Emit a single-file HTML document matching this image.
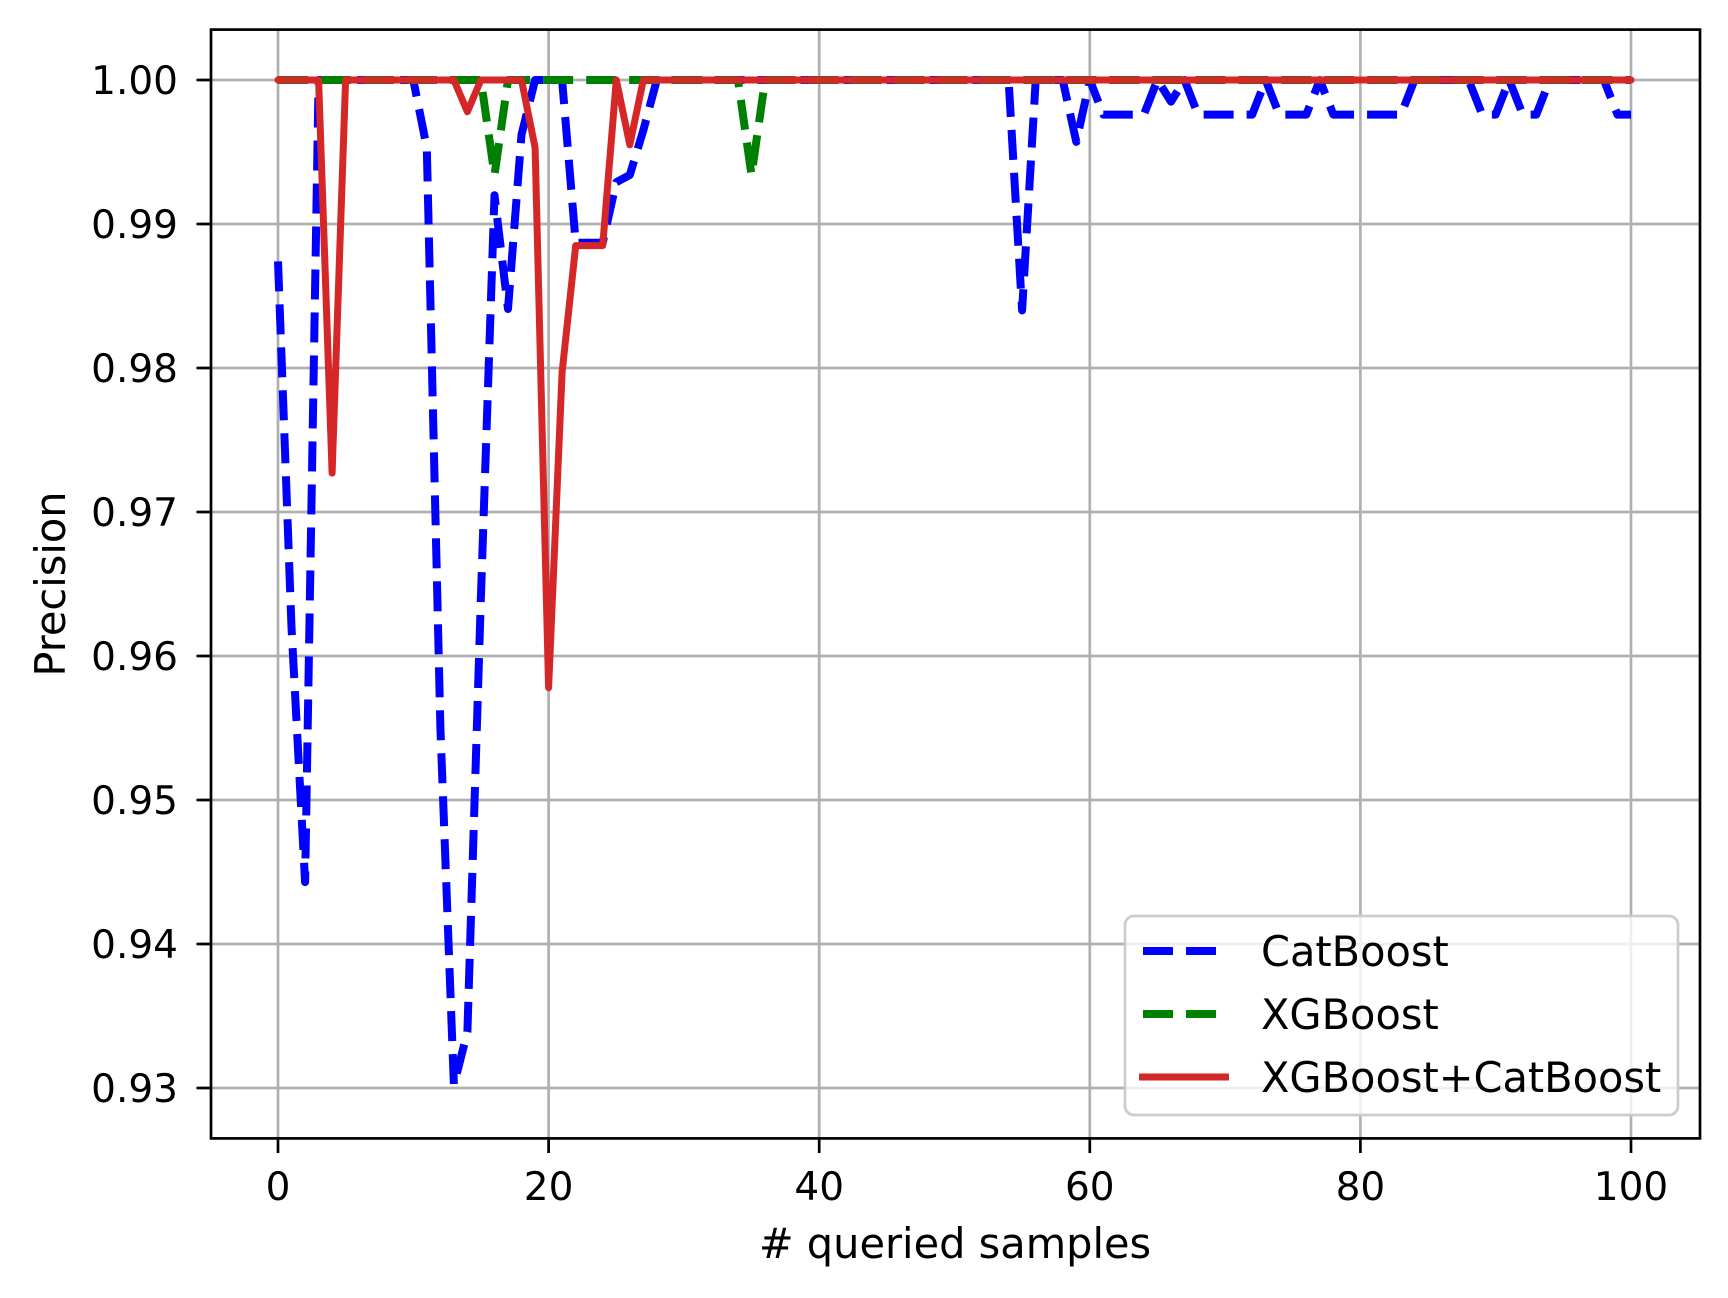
<!DOCTYPE html>
<html><head><meta charset="utf-8"><style>
html,body{margin:0;padding:0;background:#fff;}
svg{display:block;font-family:"DejaVu Sans","Liberation Sans",sans-serif;}
</style></head><body>
<svg id="chart" width="1728" height="1298" viewBox="0 0 1728 1298" xmlns="http://www.w3.org/2000/svg">
<rect width="1728" height="1298" fill="#fff"/>
<g id="grid"></g>
<g id="series"></g>
<rect x="211" y="29.6" width="1489" height="1108.8" fill="none" stroke="#000" stroke-width="2.7"/>
<g id="ticks"></g>
<text x="955" y="1258" font-size="41.5" text-anchor="middle"># queried samples</text>
<text transform="translate(65,584) rotate(-90)" font-size="41.5" text-anchor="middle">Precision</text>
<g id="legend">
<rect x="1125" y="916" width="553" height="199" rx="9" fill="#fff" fill-opacity="0.8" stroke="#cccccc" stroke-width="2.7"/>
<line x1="1143" y1="951" x2="1216" y2="951" stroke="#0000ff" stroke-width="8" stroke-dasharray="30,13"/>
<text x="1261" y="966" font-size="41.5">CatBoost</text>
<line x1="1143" y1="1014" x2="1216" y2="1014" stroke="#008000" stroke-width="8" stroke-dasharray="30,13"/>
<text x="1261" y="1029" font-size="41.5">XGBoost</text>
<line x1="1139" y1="1077" x2="1229" y2="1077" stroke="#d62728" stroke-width="7"/>
<text x="1261" y="1092" font-size="41.5">XGBoost+CatBoost</text>
</g>
</svg>
<script>
const xTicks = [0, 20, 40, 60, 80, 100];
const yTicks = [0.93, 0.94, 0.95, 0.96, 0.97, 0.98, 0.99, 1.00];
const yTickLabels = ["0.93","0.94","0.95","0.96","0.97","0.98","0.99","1.00"];
const catboost = [0.9874,0.962,0.9443,1,1,1,1,1,1,1,1,0.9953,0.955,0.9302,0.9339,0.9641,0.992,0.9841,0.9962,1,
1,1,0.9887,0.9887,0.9887,0.9929,0.9934,0.9965,1,1,1,1,1,1,1,1,1,1,1,1,
1,1,1,1,1,1,1,1,1,1,1,1,1,1,1,0.9840,1,1,1,0.9957,
1,0.9976,0.9976,0.9976,0.9976,1,0.9985,1,0.9976,0.9976,0.9976,0.9976,0.9976,1,0.9976,0.9976,0.9976,1,0.9976,0.9976,
0.9976,0.9976,0.9976,0.9976,1,1,1,1,1,0.9976,0.9976,1,0.9976,0.9976,1,1,1,1,1,0.9976,0.9976];
const xgboost = [1,1,1,1,1,1,1,1,1,1,1,1,1,1,1,1,0.9934,1,1,1,
1,1,1,1,1,1,1,1,1,1,1,1,1,1,1,0.9934,1,1,1,1,
1,1,1,1,1,1,1,1,1,1,1,1,1,1,1,1,1,1,1,1,
1,1,1,1,1,1,1,1,1,1,1,1,1,1,1,1,1,1,1,1,
1,1,1,1,1,1,1,1,1,1,1,1,1,1,1,1,1,1,1,1,1];
const combined = [1,1,1,1,0.9727,1,1,1,1,1,1,1,1,1,0.9978,1,1,1,1,0.9953,
0.9578,0.9797,0.9885,0.9885,0.9885,1,0.9955,1,1,1,1,1,1,1,1,1,1,1,1,1,
1,1,1,1,1,1,1,1,1,1,1,1,1,1,1,1,1,1,1,1,
1,1,1,1,1,1,1,1,1,1,1,1,1,1,1,1,1,1,1,1,
1,1,1,1,1,1,1,1,1,1,1,1,1,1,1,1,1,1,1,1,1];

const NS = "http://www.w3.org/2000/svg";
function xs(v){ return 278 + v * 13.53; }
function ys(v){ return 80 + (1.0 - v) * 14400; }
function mk(tag, attrs, parent){
  const e = document.createElementNS(NS, tag);
  for (const k in attrs) e.setAttribute(k, attrs[k]);
  parent.appendChild(e);
  return e;
}
const grid = document.getElementById('grid');
const ticks = document.getElementById('ticks');
xTicks.forEach(t => {
  const g = mk('line', {x1: xs(t), x2: xs(t), y1: 29.6, y2: 1138.4, stroke: '#b0b0b0', 'stroke-width': 2.7}, grid);
  
  
  const tk = mk('line', {x1: xs(t), x2: xs(t), y1: 1138.4, y2: 1153, stroke: '#000', 'stroke-width': 2.7}, ticks);
  
  
  const tx = mk('text', {x: xs(t), y: 1200, 'font-size': 39, 'text-anchor': 'middle'}, ticks);
  tx.textContent = String(t);
  
  
});
yTicks.forEach((t, i) => {
  const g = mk('line', {x1: 211, x2: 1700, y1: ys(t), y2: ys(t), stroke: '#b0b0b0', 'stroke-width': 2.7}, grid);
  
  
  const tk = mk('line', {x1: 196.5, x2: 211, y1: ys(t), y2: ys(t), stroke: '#000', 'stroke-width': 2.7}, ticks);
  
  
  const tx = mk('text', {x: 178, y: ys(t) + 14, 'font-size': 39, 'text-anchor': 'end'}, ticks);
  tx.textContent = yTickLabels[i];
  
  
});
const series = document.getElementById('series');
function pts(arr){ return arr.map((v, i) => xs(i).toFixed(1) + ',' + ys(v).toFixed(1)).join(' '); }
const l1 = mk('polyline', {points: pts(catboost), fill: 'none', stroke: '#0000ff', 'stroke-width': 8, 'stroke-dasharray': '30,13', 'stroke-linejoin': 'round'}, series);


const l2 = mk('polyline', {points: pts(xgboost), fill: 'none', stroke: '#008000', 'stroke-width': 8, 'stroke-dasharray': '30,13', 'stroke-linejoin': 'round'}, series);


const l3 = mk('polyline', {points: pts(combined), fill: 'none', stroke: '#d62728', 'stroke-width': 7, 'stroke-linejoin': 'round', 'stroke-linecap': 'round'}, series);


</script>
</body></html>
